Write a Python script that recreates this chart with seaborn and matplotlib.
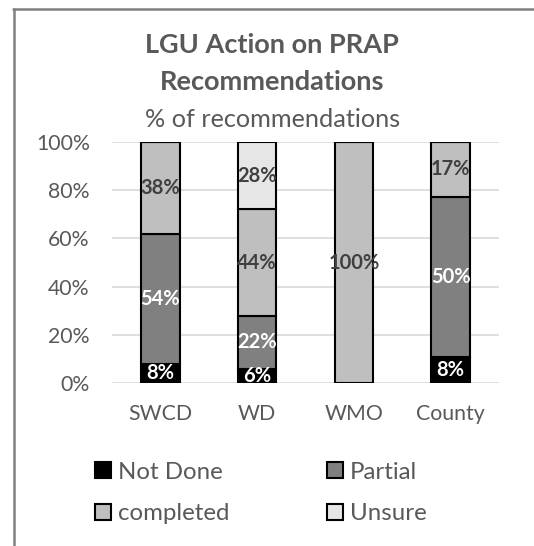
import numpy as np
import pandas as pd
import matplotlib
matplotlib.use("Agg")
import matplotlib.pyplot as plt
from matplotlib.patches import Patch
from matplotlib.lines import Line2D
from matplotlib.ticker import PercentFormatter
import seaborn as sns

# --- chart data (raw values, each bar is scaled to 100%) ---
agencies = ["SWCD", "WD", "WMO", "County"]
series_names = ["Not Done", "Partial", "completed", "Unsure"]
not_done = [8, 6, 0, 8]
partial = [54, 22, 0, 50]
completed = [38, 44, 100, 17]
unsure = [0, 28, 0, 0]

colors = ["#000000", "#808080", "#BFBFBF", "#E7E6E6"]
label_colors = ["white", "white", "#404040", "#404040"]
text_gray = "#595959"

sns.set_theme(style="white")
plt.rcParams["font.family"] = ["Lato", "DejaVu Sans"]

df = pd.DataFrame(
    {"Not Done": not_done, "Partial": partial, "completed": completed, "Unsure": unsure},
    index=agencies,
)
totals = df.sum(axis=1)
share = df.div(totals, axis=0)

fig = plt.figure(figsize=(5.34, 5.46), dpi=100)
ax = fig.add_axes([0.2097, 0.2985, 0.7248, 0.4414])

bottom = np.zeros(len(agencies))
for name, col, lab_col in zip(series_names, colors, label_colors):
    vals = share[name].values
    sns.barplot(x=agencies, y=vals, bottom=bottom, color=col, width=0.4,
                edgecolor="black", linewidth=1.5, saturation=1, ax=ax)
    for i, (v, raw) in enumerate(zip(vals, df[name].values)):
        if raw > 0:
            ax.text(i, bottom[i] + v / 2, f"{raw}%", ha="center", va="center",
                    color=lab_col, fontsize=14.5, fontweight="bold")
    bottom += vals

ax.set_ylim(0, 1)
ax.set_xlim(-0.5, 3.5)
ax.set_yticks(np.linspace(0, 1, 6))
ax.yaxis.set_major_formatter(PercentFormatter(1.0, decimals=0))
ax.grid(axis="y", color="#D9D9D9", linewidth=1.2)
ax.set_axisbelow(True)
sns.despine(ax=ax, left=True, bottom=True)
ax.tick_params(axis="both", length=0, labelsize=15.3, colors=text_gray)
ax.tick_params(axis="y", pad=16)
ax.tick_params(axis="x", pad=15)
ax.set_xlabel("")
ax.set_ylabel("")

fig.text(0.51, 0.918, "LGU Action on PRAP", ha="center", va="center",
         fontsize=19.5, fontweight="bold", color=text_gray)
fig.text(0.51, 0.850, "Recommendations", ha="center", va="center",
         fontsize=19.5, fontweight="bold", color=text_gray)
fig.text(0.51, 0.781, "% of recommendations", ha="center", va="center",
         fontsize=18.2, color=text_gray)

handles = [Patch(facecolor=c, edgecolor="black", linewidth=1.5) for c in colors]
order = [0, 2, 1, 3]
leg = fig.legend([handles[i] for i in order], [series_names[i] for i in order],
                 ncol=2, loc="center left", bbox_to_anchor=(0.138, 0.097),
                 frameon=False, fontsize=17.3, handlelength=0.65, handleheight=0.65,
                 handletextpad=0.3, columnspacing=4.05, labelspacing=0.85,
                 labelcolor=text_gray)

# chart frame (top and left edges)
fig.add_artist(Line2D([13 / 534, 1.0], [1 - 8.5 / 546, 1 - 8.5 / 546],
                      color="#808080", linewidth=1.8))
fig.add_artist(Line2D([13.5 / 534, 13.5 / 534], [0, 1 - 8.5 / 546],
                      color="#808080", linewidth=1.8))

fig.savefig("out.png", dpi=100)
plt.close(fig)
